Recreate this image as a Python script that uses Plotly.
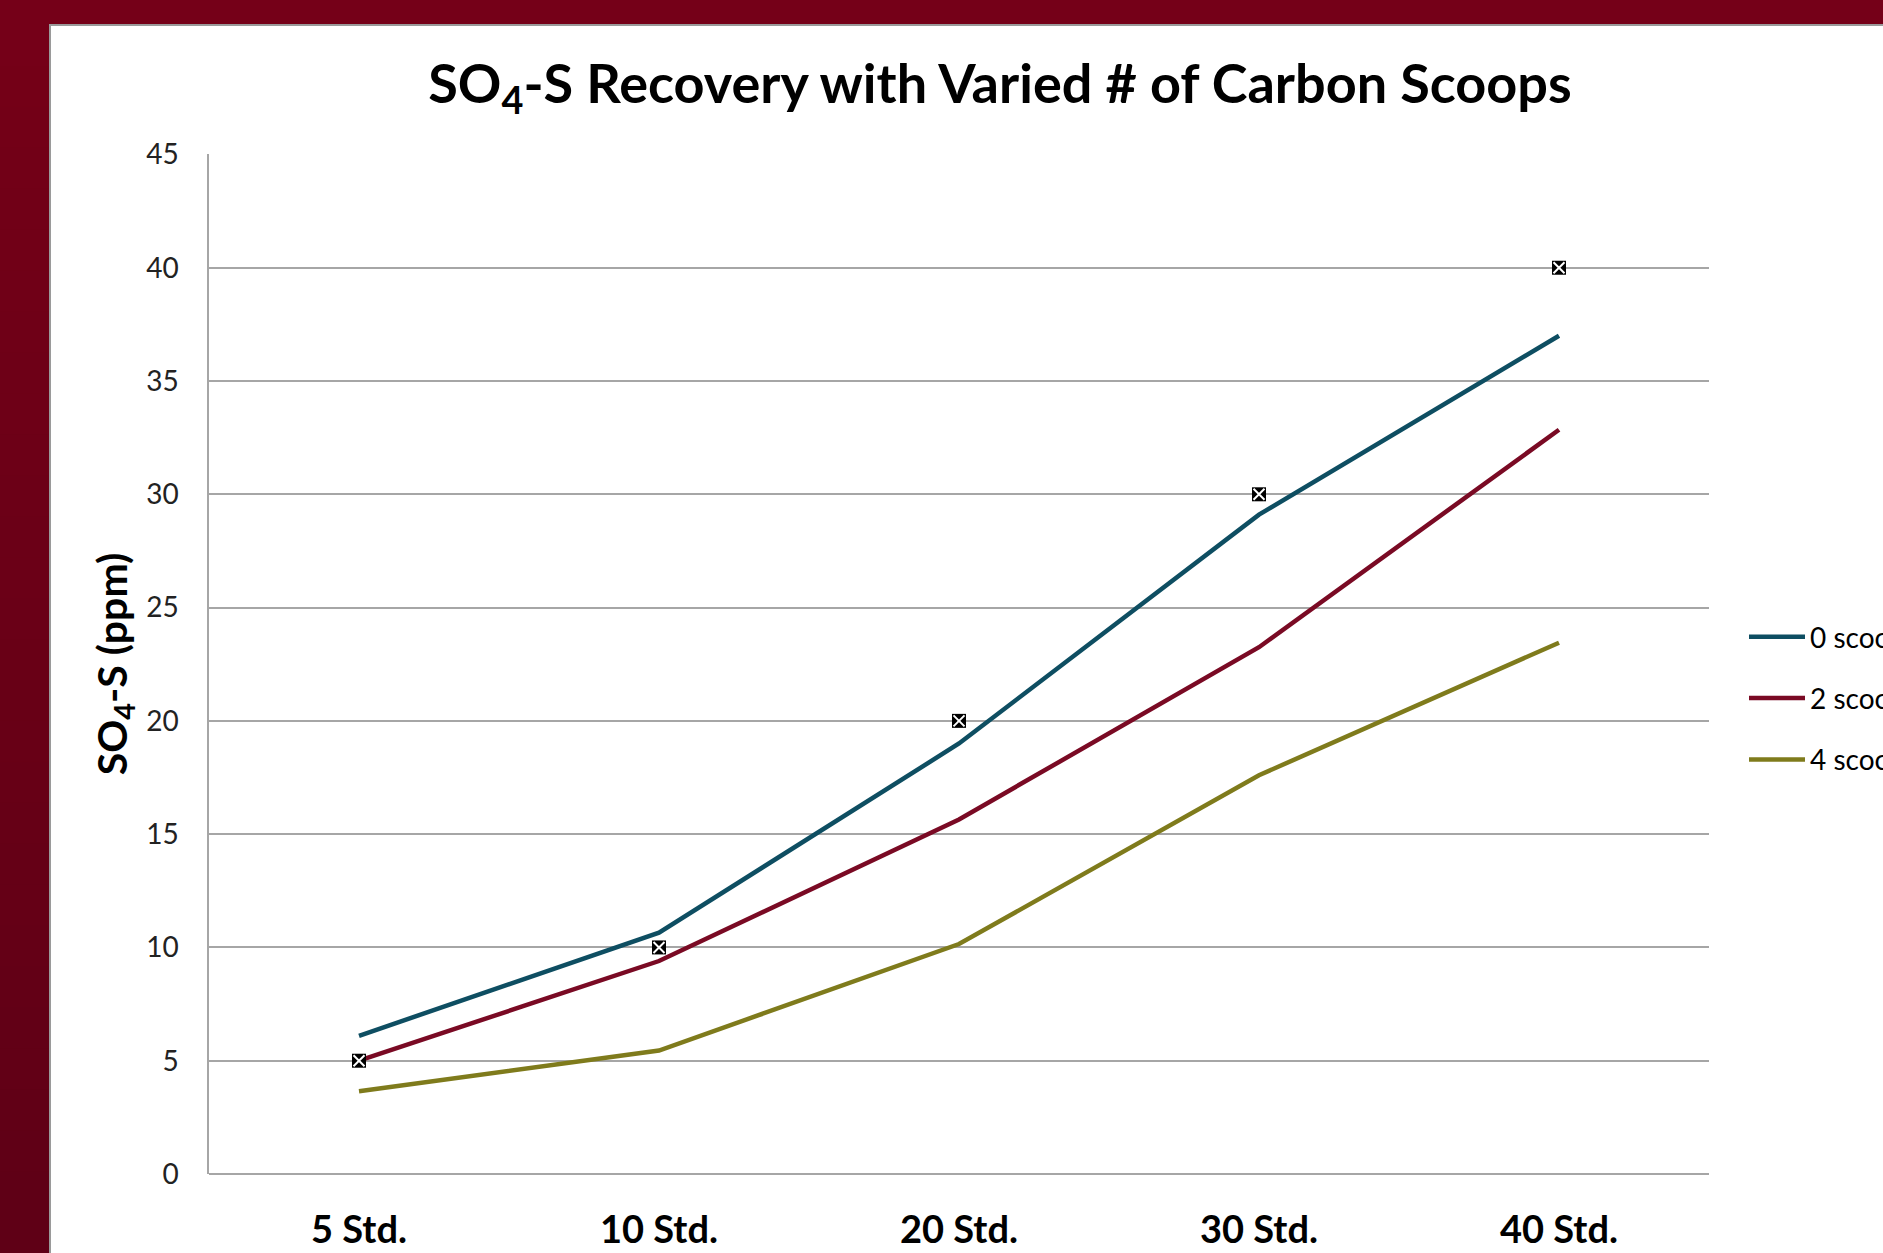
import plotly.graph_objects as go

categories = ["5 Std.", "10 Std.", "20 Std.", "30 Std.", "40 Std."]
scoops0 = [6.1, 10.65, 19.0, 29.1, 37.0]
scoops2 = [5.0, 9.4, 15.65, 23.25, 32.85]
scoops4 = [3.65, 5.45, 10.15, 17.6, 23.45]
expected = [5, 10, 20, 30, 40]
series_names = ["0 scoops", "2 scoops", "4 scoops"]
colors = ["#0E4E62", "#7A0A24", "#7F7B1C"]

W, H = 1883, 1253
L, R, T, B = 209, 1709, 154, 1174
pw, ph = R - L, B - T

def px(x):
    return (x - L) / pw

def py(y):
    return (B - y) / ph

fig = go.Figure()
for i, (name, vals, c) in enumerate(zip(series_names, [scoops0, scoops2, scoops4], colors)):
    fig.add_trace(go.Scatter(x=categories, y=vals, mode="lines", name=name,
                             legendgroup=f"g{i}",
                             line=dict(color=c, width=4.5)))
fig.add_trace(go.Scatter(x=categories, y=expected, mode="markers", showlegend=False,
                         marker=dict(symbol="square", size=14, color="black",
                                     line=dict(width=0))))
fig.add_trace(go.Scatter(x=categories, y=expected, mode="markers", showlegend=False,
                         marker=dict(symbol="x-thin", size=11, color="white",
                                     line=dict(width=2, color="white"))))

shapes = []
shapes.append(dict(type="rect", xref="paper", yref="paper", x0=px(-10), x1=px(W + 10),
                   y0=py(H + 10), y1=py(-10), fillcolor="#750018", line=dict(width=0), layer="below"))
n = 30
for i in range(n):
    y0 = 25 + (H - 25) * i / n
    y1 = 25 + (H - 25) * (i + 1) / n + 1
    t = i / (n - 1)
    r = int(0x75 + (0x5F - 0x75) * t)
    b = int(0x18 + (0x16 - 0x18) * t)
    shapes.append(dict(type="rect", xref="paper", yref="paper", x0=px(-10), x1=px(50),
                       y0=py(y1), y1=py(y0), fillcolor=f"rgb({r},0,{b})",
                       line=dict(width=0), layer="below"))
shapes.append(dict(type="rect", xref="paper", yref="paper", x0=px(50), x1=px(W + 20),
                   y0=py(H + 20), y1=py(25), fillcolor="white",
                   line=dict(width=2, color="#9a9a9a"), layer="below"))

fig.update_layout(
    width=W, height=H,
    margin=dict(l=L, r=W - R, t=T, b=H - B, autoexpand=False),
    paper_bgcolor="#750018",
    plot_bgcolor="rgba(0,0,0,0)",
    shapes=shapes,
    font=dict(family="Lato", color="#000000"),
    title=dict(text="SO<sub>4</sub>-S Recovery with Varied # of Carbon Scoops",
               x=px(1000), xref="paper", xanchor="center", y=1 - 84 / H, yanchor="middle",
               font=dict(size=54, family="Lato", weight="bold", color="#000000")),
    showlegend=True,
    legend=dict(x=px(1744), y=py(635) + 23 / ph, xanchor="left", yanchor="top",
                font=dict(size=28, family="Lato", color="#000000"),
                bgcolor="rgba(0,0,0,0)", itemwidth=56, tracegroupgap=22),
    xaxis=dict(range=[-0.5, 4.5], showgrid=False, showline=False, zeroline=False,
               tickfont=dict(size=38, family="Lato", weight="bold", color="#000000"),
               ticks="", ticklabelstandoff=30),
    yaxis=dict(range=[0, 45.02], tickvals=[0, 5, 10, 15, 20, 25, 30, 35, 40, 45],
               showgrid=True, gridcolor="#a6a6a6", gridwidth=1.5,
               showline=True, linecolor="#a6a6a6", linewidth=1.5,
               zeroline=True, zerolinecolor="#a6a6a6", zerolinewidth=1.5,
               tickfont=dict(size=28, family="Lato", color="#222222"),
               ticks="", ticklabelstandoff=23,
               title=dict(text="SO<sub>4</sub>-S (ppm)", standoff=6,
                          font=dict(size=41, family="Lato", weight="bold", color="#000000"))),
)

fig.write_html("out.html", config={"displayModeBar": False},
               post_script="document.body.style.margin='0';document.body.style.overflow='hidden';")
